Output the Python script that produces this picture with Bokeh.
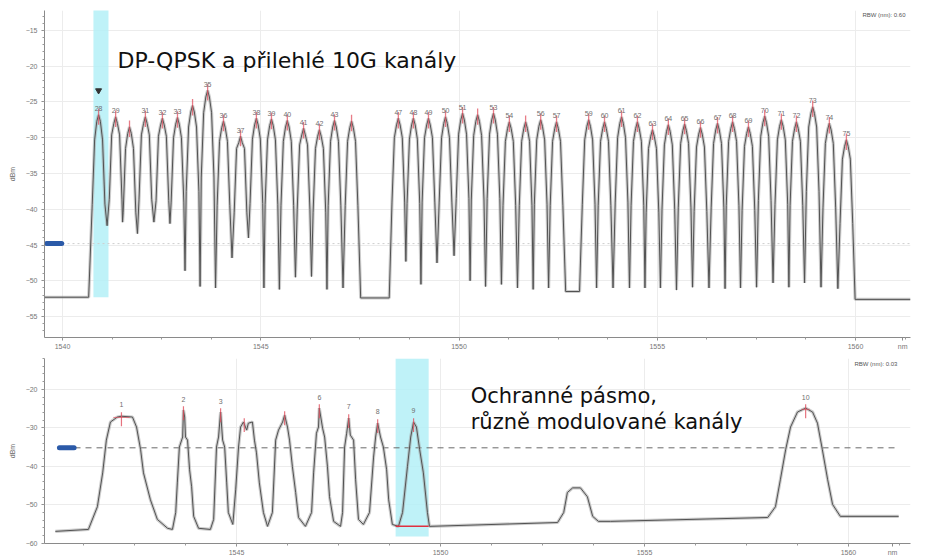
from bokeh.plotting import figure
from bokeh.layouts import column
from bokeh.models import FixedTicker, Label, ColumnDataSource
from bokeh.embed import file_html
from bokeh.resources import INLINE
from bokeh.core.properties import value

# ---------------- top spectrum (DWDM, RBW 0.06) ----------------
top_channels = [28, 29, 30, 31, 32, 33, 34, 35, 36, 37, 38, 39, 40, 41, 42, 43, 44,
                47, 48, 49, 50, 51, 52, 53, 54, 55, 56, 57,
                59, 60, 61, 62, 63, 64, 65, 66, 67, 68, 69, 70, 71, 72, 73, 74, 75]
top_wl = [1540.91, 1541.34, 1541.69, 1542.09, 1542.52, 1542.90, 1543.28, 1543.66, 1544.06,
          1544.49, 1544.89, 1545.27, 1545.67, 1546.08, 1546.48, 1546.86, 1547.29,
          1548.47, 1548.85, 1549.23, 1549.66, 1550.09, 1550.47, 1550.87, 1551.27, 1551.68,
          1552.06, 1552.46,
          1553.27, 1553.67, 1554.10, 1554.50, 1554.88, 1555.28, 1555.69, 1556.09, 1556.52,
          1556.90, 1557.30, 1557.71, 1558.13, 1558.51, 1558.92, 1559.34, 1559.77]
top_peak = [-26.8, -27.1, -28.5, -27.1, -27.3, -27.2, -25.5, -23.4, -27.7, -29.8, -27.3, -27.4,
            -27.6, -28.7, -28.9, -27.6, -27.7,
            -27.3, -27.3, -27.3, -27.1, -26.6, -26.8, -26.6, -27.8, -27.8, -27.5, -27.8,
            -27.5, -27.8, -27.1, -27.8, -28.9, -28.2, -28.1, -28.6, -28.0, -27.8, -28.5,
            -27.0, -27.5, -27.8, -25.7, -28.0, -30.3]
top_shoulder = [-30.3, -29.6, -31.5, -29.6, -29.8, -30.0, -28.5, -26.5, -30.5, -31.5, -30.2,
                -30.3, -30.5, -31.0, -31.5, -30.5, -30.5,
                -30.0, -30.2, -30.0, -30.0, -29.5, -29.7, -29.5, -30.5, -30.5, -30.3, -30.5,
                -30.3, -30.5, -30.0, -30.5, -31.5, -31.0, -30.8, -31.3, -30.8, -30.5, -31.2,
                -29.8, -30.3, -30.5, -28.5, -30.8, -33.0]
top_trough = [-42.3, -41.8, -43.4, -41.8, -42.0, -48.6, -50.8, -51.0, -46.8, -44.0, -51.0,
              -51.2, -49.5, -49.4, -51.2, -51.0, -52.4,
              -47.3, -50.5, -47.5, -46.5, -50.0, -50.8, -50.5, -51.0, -51.2, -51.0, -51.5,
              -51.0, -51.0, -51.0, -51.0, -51.0, -51.3, -50.9, -51.0, -51.1, -51.0, -50.9,
              -50.3, -50.9, -50.3, -50.9, -51.1, -52.6]
top_labels = ["28", "29", "", "31", "32", "33", "", "35", "36", "37", "38", "39", "40", "41",
              "42", "43", "", "47", "48", "49", "50", "51", "", "53", "54", "", "56", "57",
              "59", "60", "61", "62", "63", "64", "65", "66", "67", "68", "69", "70", "71",
              "72", "73", "74", "75"]
top_floor_left = -52.3
top_ref_level = -44.8
top_yticks = [-15, -20, -25, -30, -35, -40, -45, -50, -55]
top_xticks = [1540, 1545, 1550, 1555, 1560]
top_unit_at = 1561.19

# ---------------- bottom spectrum (RBW 0.03) ----------------
bot_wl = [1540.56, 1541.37, 1541.59, 1541.72, 1541.81, 1541.91, 1542.08, 1542.18, 1542.45, 1542.55,
          1542.65, 1542.72, 1542.89, 1543.06, 1543.31, 1543.43,
          1543.51, 1543.55, 1543.60, 1543.68, 1543.70, 1543.73, 1543.75, 1543.80, 1543.85, 1543.90,
          1543.95, 1544.07, 1544.36,
          1544.44, 1544.51, 1544.56, 1544.61, 1544.66, 1544.71, 1544.76, 1544.80, 1544.91,
          1544.98, 1545.05, 1545.10, 1545.17, 1545.25, 1545.29, 1545.39, 1545.44, 1545.49, 1545.56,
          1545.66, 1545.76,
          1545.88, 1545.96, 1546.03, 1546.13, 1546.18, 1546.25, 1546.30, 1546.37, 1546.45, 1546.52,
          1546.69,
          1546.84, 1546.89, 1546.96, 1547.01, 1547.03, 1547.11, 1547.16, 1547.23, 1547.28, 1547.38,
          1547.55,
          1547.60, 1547.65, 1547.70, 1547.75, 1547.79, 1547.87, 1547.92, 1547.99, 1548.11,
          1548.26, 1548.36, 1548.41, 1548.46, 1548.53, 1548.60, 1548.68, 1548.73, 1548.82, 1548.97,
          1549.07, 1549.19, 1549.27, 1549.34, 1549.41, 1549.49, 1549.58, 1549.68, 1549.73,
          1552.87, 1553.02, 1553.11, 1553.24, 1553.43, 1553.60, 1553.73, 1553.87, 1554.17,
          1558.02, 1558.21, 1558.33, 1558.46, 1558.58, 1558.75, 1558.95, 1559.12, 1559.24, 1559.36,
          1559.49, 1559.61, 1559.80, 1561.23]
bot_db = [-56.9, -56.4, -50.5, -41.7, -33.2, -28.5, -27.2, -27.0, -27.2, -29.8,
          -35.7, -41.7, -48.7, -53.8, -56.1, -56.4,
          -52.0, -44.3, -35.0, -32.4, -25.4, -27.2, -32.4, -33.2, -40.9, -45.3,
          -53.0, -56.1, -56.4,
          -53.8, -35.0, -32.4, -25.9, -33.2, -35.0, -44.3, -52.0, -55.1,
          -46.1, -35.0, -29.8, -28.5, -30.6, -28.8, -28.5, -33.2, -36.5, -44.3,
          -52.0, -55.6,
          -52.0, -33.2, -30.6, -28.5, -26.7, -29.8, -33.2, -40.1, -46.8, -53.3,
          -55.6,
          -52.0, -41.7, -31.4, -29.8, -24.9, -30.1, -32.4, -40.1, -47.9, -54.3,
          -55.6,
          -52.0, -35.0, -31.4, -27.5, -31.9, -33.2, -43.5, -53.8, -55.1,
          -52.0, -37.6, -32.4, -28.8, -32.4, -35.0, -40.9, -48.7, -55.1, -55.6,
          -52.0, -40.1, -32.4, -28.5, -29.8, -35.7, -41.7, -52.0, -55.6,
          -54.6, -52.0, -46.8, -45.6, -45.6, -47.9, -53.0, -54.3, -54.3,
          -53.3, -50.5, -43.5, -35.7, -29.8, -25.9, -24.9, -25.9, -28.8, -35.7,
          -43.5, -49.9, -53.0, -53.0]
bot_peak_wl = [1542.18, 1543.70, 1544.61, 1545.19, 1546.18, 1547.03, 1547.75, 1548.46, 1549.34, 1558.95]
bot_peak_db = [-26.97, -25.42, -25.94, -28.52, -26.71, -24.90, -27.48, -28.77, -28.52, -24.90]
bot_labels = ["1", "2", "3", "", "", "6", "7", "8", "9", "10"]
bot_ref_level = -35.2
bot_yticks = [-20, -30, -40, -50, -60]
bot_xticks = [1545, 1550, 1555, 1560]
bot_unit_at = 1561.08

assert len(bot_wl) == len(bot_db)

FONT = "DejaVu Sans"
SMALL = "Liberation Sans"
TRACE_HALO = "#a2a2a2"
TRACE = "#525252"
RED = "#e0505f"
CYAN = "#b4f0f7"
BLUE = "#2b5aa8"


def style(p, xticks, yticks, yminor, xlo, xhi, unit_at):
    p.outline_line_color = None
    p.background_fill_color = "white"
    p.border_fill_color = "white"
    for ax in (p.xaxis[0], p.yaxis[0]):
        ax.axis_line_color = "#8a8a8a"
        ax.major_tick_line_color = "#8a8a8a"
        ax.minor_tick_line_color = "#9a9a9a"
        ax.major_tick_in = 0
        ax.minor_tick_in = 0
        ax.major_tick_out = 3
        ax.minor_tick_out = 2
        ax.major_label_text_font = SMALL
        ax.major_label_text_font_size = "7px"
        ax.major_label_text_color = "#777777"
        ax.axis_label_text_font = SMALL
        ax.axis_label_text_font_size = "7px"
        ax.axis_label_text_font_style = "normal"
        ax.axis_label_text_color = "#666666"
    p.xaxis.major_label_standoff = 2
    p.yaxis.major_label_standoff = 4
    p.yaxis.axis_label = "dBm"
    p.yaxis.axis_label_standoff = 7
    minor_x = []
    v = xticks[0] - 10
    while v < xhi + 5:
        minor_x.append(round(v, 3))
        v += 1.25
    # the unit "nm" is shown as an extra tick label at the right end of the axis
    p.xaxis.ticker = FixedTicker(ticks=xticks + [unit_at], minor_ticks=minor_x)
    p.xaxis.major_label_overrides = {unit_at: "nm"}
    ymin = []
    v = -70.0
    while v <= -5:
        ymin.append(round(v, 3))
        v += yminor
    p.yaxis.ticker = FixedTicker(ticks=yticks, minor_ticks=ymin)
    p.xgrid.ticker = FixedTicker(ticks=xticks)
    p.ygrid.ticker = FixedTicker(ticks=yticks)
    p.xgrid.grid_line_color = "#ececec"
    p.ygrid.grid_line_color = "#ececec"


# column layouts align the plot frames, so both figures share the same borders
BORDER_L, BORDER_R = 44, 19

# ================= TOP FIGURE =================
TX0, TX1 = 1539.546, 1561.387
top = figure(width=929, height=352, x_range=(TX0, TX1), y_range=(-57.93, -12.21),
             output_backend="svg", toolbar_location=None,
             min_border_left=BORDER_L, min_border_right=BORDER_R, min_border_top=10,
             min_border_bottom=14)
style(top, top_xticks, top_yticks, 1.0, TX0, TX1, top_unit_at)

top.quad(left=[1540.78], right=[1541.16], top=[-11.9], bottom=[-52.3],
         fill_color=CYAN, fill_alpha=0.85, line_color=None)

top.segment(x0=[1540.0], y0=[top_ref_level], x1=[TX1], y1=[top_ref_level],
            line_color="#cfcfcf", line_dash="2 3", line_width=1)
top.segment(x0=[1539.60], y0=[top_ref_level], x1=[1539.98], y1=[top_ref_level],
            line_color=BLUE, line_width=5, line_cap="round")

tx = [TX0, top_wl[0] - 0.25]
ty = [top_floor_left, top_floor_left]
n = len(top_wl)
for i in range(n):
    c, pk, sh = top_wl[i], top_peak[i], top_shoulder[i]
    lo = sh - 9
    near = pk - 0.9
    for dx, v in ((-0.16, lo), (-0.10, sh), (-0.045, near), (0.0, pk),
                  (0.045, near), (0.10, sh), (0.16, lo)):
        tx.append(c + dx)
        ty.append(v)
    if i < n - 1:
        nxt = top_wl[i + 1]
        if nxt - c > 0.6:
            tx += [c + 0.23, nxt - 0.23]
            ty += [top_trough[i], top_trough[i]]
        else:
            tx.append((c + nxt) / 2)
            ty.append(top_trough[i])
    else:
        tx += [c + 0.22, TX1]
        ty += [top_trough[i], top_trough[i]]

top.line(tx, ty, line_color=TRACE_HALO, line_width=3.2, line_alpha=0.55)
top.line(tx, ty, line_color=TRACE, line_width=1.0)

top.segment(x0=top_wl, y0=[v + 0.9 for v in top_peak], x1=top_wl, y1=[v - 1.4 for v in top_peak],
            line_color=RED, line_width=1.3, line_alpha=0.75)

tsrc = ColumnDataSource(dict(x=top_wl, y=[v + 0.5 for v in top_peak], t=top_labels))
top.text(x="x", y="y", text="t", source=tsrc, text_font=value(SMALL), text_font_size="7px",
         text_color="#6f6f6f", text_align="center", text_baseline="bottom")

top.scatter(x=[top_wl[0]], y=[-23.4], marker="inverted_triangle", size=6,
            fill_color="#333333", line_color="#333333")

top.add_layout(Label(x=1541.39, y=-19.18, text="DP-QPSK a přilehlé 10G kanály",
                     text_font=FONT, text_font_size="22px", text_color="#111111",
                     text_baseline="alphabetic"))
top.add_layout(Label(x=1561.26, y=-12.9, text="RBW (nm): 0.60", text_font=SMALL,
                     text_font_size="6px", text_color="#555555", text_align="right",
                     text_baseline="middle"))

# ================= BOTTOM FIGURE =================
BX0, BX1 = 1540.294, 1561.520
bot = figure(width=929, height=206, x_range=(BX0, BX1), y_range=(-60.05, -12.0),
             output_backend="svg", toolbar_location=None,
             min_border_left=BORDER_L, min_border_right=BORDER_R, min_border_top=6,
             min_border_bottom=14)
style(bot, bot_xticks, bot_yticks, 2.0, BX0, BX1, bot_unit_at)

bot.quad(left=[1548.90], right=[1549.71], top=[-12.0], bottom=[-58.2],
         fill_color=CYAN, fill_alpha=0.85, line_color=None)
bot.segment(x0=[1541.03], y0=[bot_ref_level], x1=[1561.23], y1=[bot_ref_level],
            line_color="#6a6a6a", line_dash="6 5", line_width=1)
bot.segment(x0=[1540.66], y0=[bot_ref_level], x1=[1541.02], y1=[bot_ref_level],
            line_color=BLUE, line_width=5, line_cap="round")

bot.line(bot_wl, bot_db, line_color=TRACE_HALO, line_width=3.2, line_alpha=0.55)
bot.line(bot_wl, bot_db, line_color=TRACE, line_width=1.0)

bot.segment(x0=[1548.90], y0=[-55.6], x1=[1549.71], y1=[-55.6], line_color="#e03040", line_width=1.5)
bot.segment(x0=bot_peak_wl, y0=[v + 1.0 for v in bot_peak_db], x1=bot_peak_wl,
            y1=[v - 2.6 for v in bot_peak_db], line_color=RED, line_width=1.2, line_alpha=0.8)
bot.segment(x0=[1541.98, 1558.85], y0=[-27.3, -25.2], x1=[1542.38, 1559.05], y1=[-27.3, -25.2],
            line_color=RED, line_width=1.0, line_alpha=0.7)

bsrc = ColumnDataSource(dict(x=bot_peak_wl, y=[v + 2.9 for v in bot_peak_db], t=bot_labels))
bot.text(x="x", y="y", text="t", source=bsrc, text_font=value(SMALL), text_font_size="7px",
         text_color="#6f6f6f", text_align="center", text_baseline="middle")

bot.add_layout(Label(x=1550.74, y=-21.81, text="Ochranné pásmo,", text_font=FONT,
                     text_font_size="21px", text_color="#111111", text_baseline="alphabetic"))
bot.add_layout(Label(x=1550.74, y=-28.52, text="různě modulované kanály", text_font=FONT,
                     text_font_size="21px", text_color="#111111", text_baseline="alphabetic"))
bot.add_layout(Label(x=1561.2, y=-13.3, text="RBW (nm): 0.03", text_font=SMALL,
                     text_font_size="6px", text_color="#555555", text_align="right",
                     text_baseline="middle"))

layout = column(top, bot, spacing=0)
open("out.html", "w").write(file_html(layout, INLINE))
